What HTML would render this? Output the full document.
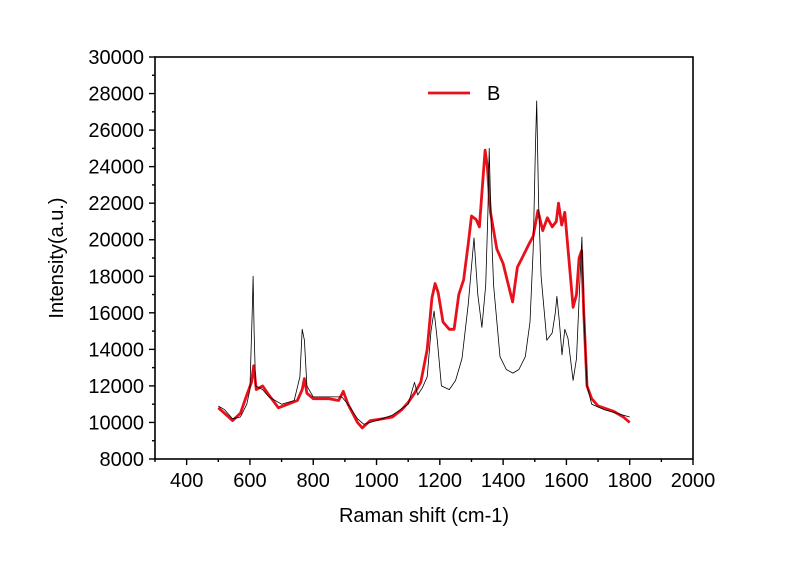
<!DOCTYPE html>
<html><head><meta charset="utf-8"><style>
body{margin:0;background:#fff}
svg text{font-family:"Liberation Sans",Arial,sans-serif;fill:#000}
</style></head><body>
<svg id="chart" width="800" height="565" xmlns="http://www.w3.org/2000/svg">
<rect width="800" height="565" fill="#fff"/>
<g id="plot"></g>
<g id="axes"></g>
<text x="424" y="522" font-size="20" text-anchor="middle">Raman shift (cm-1)</text>
<text transform="translate(63,258) rotate(-90)" font-size="20" text-anchor="middle">Intensity(a.u.)</text>
<g>
<line x1="428" y1="93" x2="470" y2="93" stroke="#e8101a" stroke-width="2.8"/>
<text x="487" y="100" font-size="20">B</text>
</g>
</svg>
<script>
const xTicks=[400,600,800,1000,1200,1400,1600,1800,2000];
const yTicks=[8000,10000,12000,14000,16000,18000,20000,22000,24000,26000,28000,30000];
const blackX=[500,520,545,570,590,600,607,610,613,618,640,660,700,740,758,765,772,780,800,850,890,910,940,960,1000,1050,1100,1120,1130,1145,1160,1172,1182,1192,1205,1230,1250,1270,1290,1308,1320,1333,1345,1352,1356,1362,1370,1390,1410,1431,1450,1470,1485,1495,1502,1506,1512,1520,1538,1555,1565,1570,1578,1586,1595,1605,1621,1632,1642,1649,1655,1665,1680,1720,1800];
const blackY=[10900,10700,10200,10300,11000,11800,16000,18000,15000,12000,11800,11400,11000,11200,12500,15100,14500,12000,11400,11400,11400,11000,10200,9900,10100,10400,11000,12200,11500,11900,12500,15000,16100,14500,12000,11800,12300,13500,16500,20100,17000,15200,17500,21500,25000,21000,17500,13600,12900,12700,12900,13600,15500,19500,25000,27600,22000,18000,14500,14900,16000,16900,15500,13700,15100,14600,12300,13500,17500,20150,16000,12000,11000,10700,10300];
const redX=[500,520,545,570,590,605,612,620,640,660,690,720,750,765,772,780,800,850,880,895,910,940,955,980,1020,1050,1080,1100,1120,1140,1160,1175,1185,1195,1210,1230,1245,1260,1275,1290,1300,1315,1325,1335,1343,1350,1360,1380,1400,1420,1430,1445,1460,1480,1495,1510,1525,1540,1555,1568,1575,1585,1595,1610,1621,1632,1640,1648,1655,1665,1680,1700,1750,1780,1800];
const redY=[10800,10500,10100,10500,11500,12200,13100,11800,12000,11500,10800,11000,11200,11800,12400,11600,11300,11300,11200,11700,11000,10000,9700,10100,10200,10300,10700,11100,11600,12200,14000,16800,17600,17100,15500,15100,15100,17000,17800,19800,21300,21100,20700,23000,24900,24000,21500,19500,18700,17300,16600,18500,19000,19700,20200,21600,20500,21200,20700,21000,22000,20800,21500,18500,16300,17000,19000,19400,16000,12000,11300,10900,10600,10300,10000];
const X0=155,X1=693,Y0=459,Y1=57,xmin=300,xmax=2000,ymin=8000,ymax=30000;
const sx=v=>X0+(v-xmin)/(xmax-xmin)*(X1-X0);
const sy=v=>Y0-(v-ymin)/(ymax-ymin)*(Y0-Y1);
const NS='http://www.w3.org/2000/svg';
const plot=document.getElementById('plot'),axes=document.getElementById('axes');
function mk(tag,attrs,parent){const e=document.createElementNS(NS,tag);for(const k in attrs)e.setAttribute(k,attrs[k]);parent.appendChild(e);return e;}
function series(xs,ys,color,w,name){
  const p=mk('path',{d:xs.map((x,i)=>(i?'L':'M')+sx(x).toFixed(1)+','+sy(ys[i]).toFixed(1)).join(''),fill:'none',stroke:color,'stroke-width':w,'stroke-linejoin':'round'},plot);
  
  
}
series(redX,redY,'#e8101a',2.8,'series-b-line');
series(blackX,blackY,'#000',0.8,'series-a-line');
const frame=mk('rect',{x:X0,y:Y1,width:X1-X0,height:Y0-Y1,fill:'none',stroke:'#000','stroke-width':1.6},axes);


for(let v=300;v<=2000;v+=100){
  const major=xTicks.includes(v);
  const t=mk('line',{x1:sx(v),x2:sx(v),y1:Y0,y2:Y0+(major?6:3),stroke:'#000','stroke-width':1.4},axes);
  
  
}
xTicks.forEach(v=>{
  const t=mk('text',{x:sx(v),y:Y0+28,'font-size':20,'text-anchor':'middle'},axes);t.textContent=v;
  
  
});
for(let v=8000;v<=30000;v+=1000){
  const major=yTicks.includes(v);
  const t=mk('line',{x1:X0-(major?6:3),x2:X0,y1:sy(v),y2:sy(v),stroke:'#000','stroke-width':1.4},axes);
  
  
}
yTicks.forEach(v=>{
  const t=mk('text',{x:X0-11,y:sy(v)+7,'font-size':20,'text-anchor':'end'},axes);t.textContent=v;
  
  
});
</script>
</body></html>
